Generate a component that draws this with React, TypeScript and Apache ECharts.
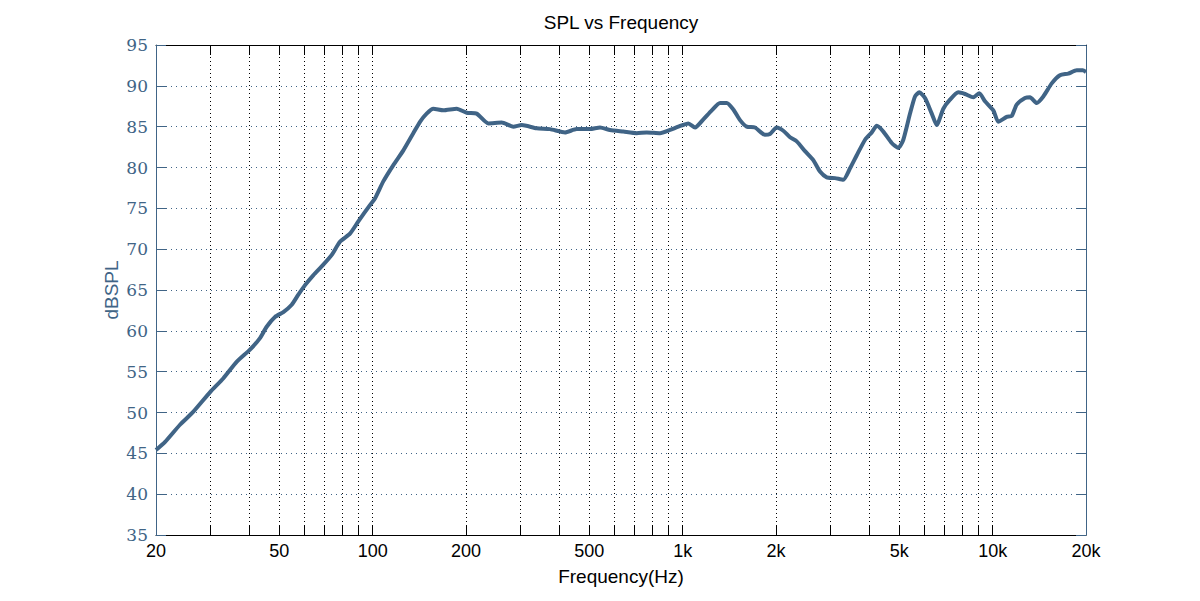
import { useEffect, useRef } from "react";
import * as echarts from "echarts";

const freqs = [
  20, 21.4, 23.9, 26.4, 29.9, 33.0, 36.4, 40.2, 43.3, 45.5, 48.4, 51.5, 54.8, 57.5, 60.5, 64.3, 69.3, 73.8,
  78.4, 84.5, 89.9, 98.0, 101.7, 108.2, 116.6, 125.6, 135.2, 142.1, 149.3, 156.9, 169.0, 186.7, 201, 216.5,
  236.1, 260.8, 284.3, 302.5, 338.2, 373.3, 417.3, 455.1, 502.4, 541.2, 582.8, 643.6, 710.8, 765.6, 845.4,
  910.5, 968.4, 1043, 1096, 1166, 1241, 1320, 1387, 1457, 1531, 1609, 1711, 1843, 1912, 2011, 2111, 2220,
  2333, 2481, 2638, 2773, 2915, 3101, 3297, 3466, 3644, 3876, 4074, 4227, 4438, 4724, 4961, 5149, 5412,
  5616, 5799, 6050, 6360, 6600, 6931, 7282, 7744, 8142, 8660, 9055, 9447, 10047, 10426, 11095, 11516,
  11953, 12712, 13195, 13868, 14565, 15504, 16482, 17531, 18664, 19516, 20000,
];

const spl = [
  45.4, 46.4, 48.5, 50.1, 52.5, 54.2, 56.2, 57.7, 59.1, 60.5, 61.7, 62.3, 63.2, 64.4, 65.6, 66.8, 68.1, 69.3,
  70.9, 71.9, 73.4, 75.4, 76.2, 78.3, 80.3, 82.1, 84.2, 85.6, 86.6, 87.2, 87.0, 87.2, 86.7, 86.6,
  85.4, 85.5, 85.0, 85.2, 84.8, 84.7, 84.3, 84.7, 84.7, 84.9, 84.6, 84.4, 84.2, 84.3, 84.2,
  84.6, 85.0, 85.4, 84.9, 85.9, 87.0, 87.9, 87.9, 87.1, 85.8, 85.0, 84.9, 84.0, 84.1, 84.9, 84.5, 83.7,
  83.2, 82.0, 80.9, 79.5, 78.8, 78.7, 78.5, 79.9, 81.5, 83.4, 84.3, 85.1, 84.4, 83.0, 82.4, 83.4, 86.6,
  88.7, 89.2, 88.5, 86.6, 85.2, 87.2, 88.3, 89.2, 89.0, 88.6, 89.1, 88.1, 87.0, 85.6, 86.2, 86.3,
  87.7, 88.5, 88.6, 87.9, 88.7, 90.3, 91.3, 91.5, 91.9, 91.9, 91.7,
];

const tickFreqs = [
  30, 40, 50, 60, 70, 80, 90, 100, 200, 300, 400, 500, 600, 700, 800, 900, 1000, 2000, 3000, 4000, 5000,
  6000, 7000, 8000, 9000, 10000,
];
const labelFreqs = [20, 50, 100, 200, 500, 1000, 2000, 5000, 10000, 20000];

const freqMin = 20;
const freqMax = 20000;
const yMin = 35;
const yMax = 95;
const yStep = 5;

const BLUE = "#406486";

function fmtFreq(v: number): string {
  const f = Math.round(Math.pow(10, v));
  return f >= 1000 ? `${f / 1000}k` : String(f);
}

export default function App() {
  const ref = useRef<HTMLDivElement>(null);

  useEffect(() => {
    if (!ref.current) return;
    const chart = echarts.init(ref.current, undefined, { renderer: "svg" });
    const xMin = Math.log10(freqMin);
    const xMax = Math.log10(freqMax);
    const tickVals = tickFreqs.map((f) => Math.log10(f));
    const labelVals = labelFreqs.map((f) => Math.log10(f));
    const data = freqs.map((f, i) => [Math.log10(f), spl[i]]);

    chart.setOption({
      animation: false,
      backgroundColor: "#fff",
      graphic: [
        {
          type: "text",
          x: 621,
          y: 13,
          style: {
            text: "SPL vs Frequency",
            fill: "#000",
            fontSize: 19,
            fontFamily: "Liberation Sans",
            align: "center",
            verticalAlign: "top",
          },
        },
      ],
      grid: { left: 156, right: 114, top: 45, bottom: 66, containLabel: false },
      xAxis: [
        {
          type: "value",
          position: "bottom",
          min: xMin,
          max: xMax,
          axisLine: { show: true, onZero: false, lineStyle: { color: "#000", width: 1 } },
          axisTick: { show: true, inside: true, length: 10, customValues: tickVals, lineStyle: { color: "#000" } },
          axisLabel: {
            customValues: labelVals,
            formatter: fmtFreq,
            color: "#000",
            fontSize: 18,
            fontFamily: "Liberation Sans",
            margin: 7,
          },
          splitLine: { show: true, lineStyle: { color: "#000", type: [1, 3], width: 1 } },
          name: "Frequency(Hz)",
          nameLocation: "middle",
          nameGap: 32,
          nameMoveOverlap: false,
          nameTextStyle: { color: "#000", fontSize: 19, fontFamily: "Liberation Sans" },
        },
        {
          type: "value",
          position: "top",
          min: xMin,
          max: xMax,
          axisLine: { show: true, onZero: false, lineStyle: { color: "#000", width: 1 } },
          axisTick: { show: true, inside: true, length: 10, customValues: tickVals, lineStyle: { color: "#000" } },
          axisLabel: { show: false },
          splitLine: { show: false },
        },
      ],
      yAxis: [
        {
          type: "value",
          position: "left",
          min: yMin,
          max: yMax,
          interval: yStep,
          axisLine: { show: true, onZero: false, lineStyle: { color: BLUE, width: 1 } },
          axisTick: { show: true, inside: true, length: 10, lineStyle: { color: BLUE } },
          axisLabel: { color: BLUE, fontSize: 17, fontFamily: "DejaVu Serif", margin: 8 },
          splitLine: {
            show: true,
            showMinLine: false,
            showMaxLine: false,
            lineStyle: { color: BLUE, type: [1, 4], width: 1 },
          },
          name: "dBSPL",
          nameLocation: "middle",
          nameGap: 35,
          nameMoveOverlap: false,
          nameTextStyle: { color: BLUE, fontSize: 19, fontFamily: "Liberation Sans" },
        },
        {
          type: "value",
          position: "right",
          min: yMin,
          max: yMax,
          interval: yStep,
          axisLine: { show: true, onZero: false, lineStyle: { color: BLUE, width: 1 } },
          axisTick: { show: true, inside: true, length: 10, lineStyle: { color: BLUE } },
          axisLabel: { show: false },
          splitLine: { show: false },
        },
      ],
      series: [
        {
          type: "line",
          xAxisIndex: 0,
          yAxisIndex: 0,
          data,
          showSymbol: false,
          symbol: "none",
          smooth: 0.2,
          lineStyle: { color: BLUE, width: 4 },
          itemStyle: { color: BLUE },
          z: 5,
        },
      ],
    });

    return () => chart.dispose();
  }, []);

  return <div ref={ref} style={{ position: "absolute", left: 0, top: 0, width: 1200, height: 601 }} />;
}
